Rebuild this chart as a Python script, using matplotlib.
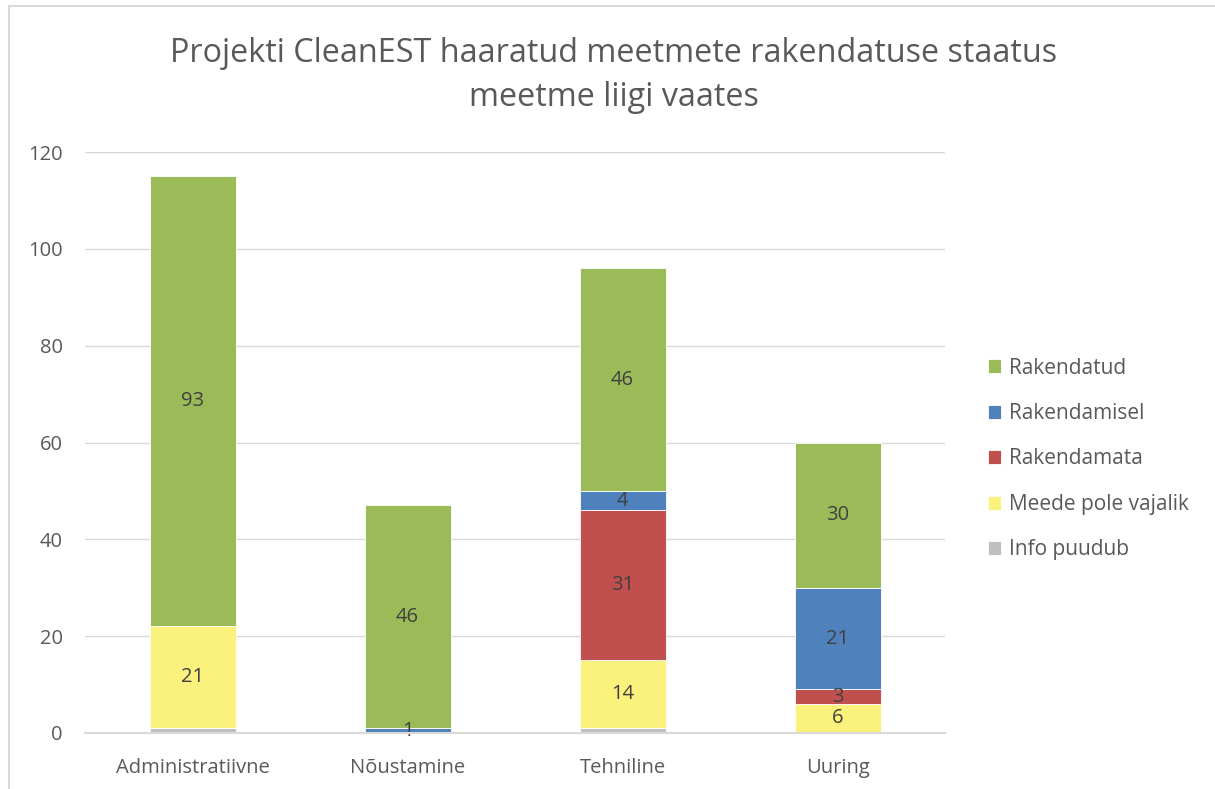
import matplotlib
matplotlib.use("Agg")
import matplotlib.pyplot as plt
from matplotlib.lines import Line2D
import numpy as np

categories = ["Administratiivne", "Nõustamine", "Tehniline", "Uuring"]
series_names = ["Info puudub", "Meede pole vajalik", "Rakendamata", "Rakendamisel", "Rakendatud"]
info_puudub = [1, 0, 1, 0]
meede_pole_vajalik = [21, 0, 14, 6]
rakendamata = [0, 0, 31, 3]
rakendamisel = [0, 1, 4, 21]
rakendatud = [93, 46, 46, 30]
show_labels = [False, True, True, True, True]
yticks = [0, 20, 40, 60, 80, 100, 120]

colors = ["#BFBFBF", "#FBF17D", "#C0504D", "#4F81BD", "#9BBB59"]

plt.rcParams['font.family'] = ['Open Sans', 'DejaVu Sans']

fig = plt.figure(figsize=(12.15, 7.89), dpi=100)
ax = fig.add_axes([85/1215, 1-733/789, 860/1215, (733-152)/789])

x = np.arange(len(categories))
data = [info_puudub, meede_pole_vajalik, rakendamata, rakendamisel, rakendatud]
bottom = np.zeros(len(categories))
handles = []
for name, vals, col, lab in zip(series_names, data, colors, show_labels):
    vals = np.array(vals, dtype=float)
    bars = ax.bar(x, vals, width=0.4, bottom=bottom, color=col, edgecolor="white",
                  linewidth=0.6, label=name, zorder=3)
    if lab:
        for xi, v, b in zip(x, vals, bottom):
            if v > 0:
                ax.text(xi, b + v/2, f"{int(v)}", ha="center", va="center",
                        fontsize=14.5, color="#404040", zorder=4)
    handles.append(bars)
    bottom += vals

ax.set_xlim(-0.5, 3.5)
ax.set_ylim(0, 120)
ax.set_yticks(yticks)
ax.set_yticklabels([str(t) for t in yticks])
ax.set_xticks(x)
ax.set_xticklabels(categories)
ax.tick_params(axis='both', length=0, labelsize=14.5, colors="#595959")
ax.tick_params(axis='y', pad=16)
ax.tick_params(axis='x', pad=18)
ax.grid(axis='y', color="#D9D9D9", linewidth=1.0, zorder=0)
for s in ["top", "right", "left"]:
    ax.spines[s].set_visible(False)
ax.spines["bottom"].set_color("#D9D9D9")
ax.spines["bottom"].set_linewidth(1.5)
ax.spines["bottom"].set_zorder(5)

fig.text(614/1215, 1-53/789, "Projekti CleanEST haaratud meetmete rakendatuse staatus",
         ha="center", va="center", fontsize=23.3, color="#595959")
fig.text(614/1215, 1-98/789, "meetme liigi vaates",
         ha="center", va="center", fontsize=23.3, color="#595959")

leg_h = handles[::-1]
leg_l = series_names[::-1]
leg = fig.legend(leg_h, leg_l, loc="center left", bbox_to_anchor=(969/1215, 1-459/789),
                 frameon=False, fontsize=15, labelcolor="#595959",
                 handlelength=0.65, handleheight=0.65, handletextpad=0.35,
                 labelspacing=1.17)

fig.add_artist(Line2D([8.5/1215, 8.5/1215], [0, 1-6/789], color="#D9D9D9", linewidth=1.5,
                      transform=fig.transFigure))
fig.add_artist(Line2D([8.5/1215, 1], [1-6/789, 1-6/789], color="#D9D9D9", linewidth=1.5,
                      transform=fig.transFigure))

fig.savefig("out.png", dpi=100)
